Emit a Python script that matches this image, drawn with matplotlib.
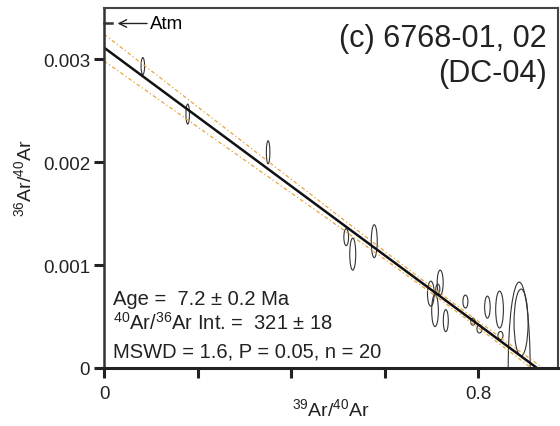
import matplotlib as mpl
mpl.use('Agg')
import matplotlib.pyplot as plt
from matplotlib.patches import Ellipse
import numpy as np

plt.rcParams['font.family'] = ['Liberation Sans', 'DejaVu Sans']
plt.rcParams['mathtext.fontset'] = 'custom'
plt.rcParams['mathtext.rm'] = 'Liberation Sans'
plt.rcParams['mathtext.it'] = 'Liberation Sans:italic'

# error ellipses: 39Ar/40Ar, 36Ar/40Ar, full width, full height
x_c = [0.083, 0.179, 0.351, 0.518, 0.532, 0.578, 0.699, 0.719, 0.714, 0.708,
       0.731, 0.773, 0.789, 0.803, 0.820, 0.846, 0.848, 0.888, 0.892]
y_c = [0.002935, 0.002469, 0.002097, 0.001272, 0.001107, 0.001233, 0.000723,
       0.000830, 0.000767, 0.000558, 0.000461, 0.000646, 0.000451, 0.000379,
       0.000592, 0.000568, 0.000316, 0.0, 0.000442]
w_c = [0.0075, 0.0075, 0.0075, 0.010, 0.0128, 0.0128, 0.0143, 0.0128, 0.0086,
       0.0143, 0.0107, 0.0107, 0.0096, 0.0107, 0.0118, 0.0165, 0.0107, 0.047, 0.030]
h_c = [0.000165, 0.000194, 0.000223, 0.000165, 0.000311, 0.000320, 0.000243,
       0.000243, 0.000097, 0.000311, 0.000214, 0.000126, 0.000068, 0.000078,
       0.000214, 0.000359, 0.000078, 0.00167, 0.00065]

# isochron fit
y_int = 1 / 321.0
x_int = 0.926
atm = 1 / 298.56
# envelope half width parameters
env_a, env_b, env_x0 = 0.00003, 0.000169, 0.75

fig = plt.figure(figsize=(5.6, 4.27), dpi=100)
ax = fig.add_axes([104/560, 1-369/427, 454/560, 360/427])

for x, y, w, h in zip(x_c, y_c, w_c, h_c):
    ax.add_patch(Ellipse((x, y), w, h, fill=False, edgecolor='#333333', linewidth=0.8))

xx = np.linspace(0, 0.971, 200)
yy = y_int - y_int / x_int * xx
half = np.sqrt(env_a**2 + env_b**2 * (xx - env_x0)**2)
ax.plot(xx, yy + half, color='#E8A640', lw=0.9, ls=(0, (3, 2, 1, 2)))
ax.plot(xx, yy - half, color='#E8A640', lw=0.9, ls=(0, (3, 2, 1, 2)))
ax.plot([0, x_int], [y_int, 0], color='#111111', lw=1.8)

# atmospheric ratio marker
ax.plot([0, 0.018], [atm, atm], color='#333333', lw=1.8, clip_on=False)
ax.annotate('Atm', xy=(0.029, atm), xytext=(0.098, atm), fontsize=13.5,
            va='center', ha='left',
            arrowprops=dict(arrowstyle='->', color='#222222', lw=1.0,
                            shrinkA=0, shrinkB=0))

ax.set_xlim(0, 0.971)
ax.set_ylim(0, 0.0035)
ax.set_xticks([0, 0.2, 0.4, 0.6, 0.8])
ax.set_xticklabels(['0', '', '', '', '0.8'])
ax.set_yticks([0, 0.001, 0.002, 0.003])
ax.set_yticklabels(['0', '0.001', '0.002', '0.003'])
ax.tick_params(direction='out', length=7, width=2.2, color='#222222',
               labelsize=13.5, labelcolor='#222222')
ax.tick_params(axis='x', pad=5)
ax.tick_params(axis='y', pad=3)

ax.spines['left'].set_linewidth(1.8)
ax.spines['left'].set_color('#333333')
ax.spines['bottom'].set_linewidth(2.2)
ax.spines['bottom'].set_color('#222222')
for s in ['top', 'right']:
    ax.spines[s].set_linewidth(1.5)
    ax.spines[s].set_color('#444444')

ax.set_xlabel('$^{39}$Ar/$^{40}$Ar', fontsize=14, color='#222222')
ax.set_ylabel('$^{36}$Ar/$^{40}$Ar', fontsize=14, color='#222222')
ax.xaxis.set_label_coords(0.5, -0.08)
ax.yaxis.set_label_coords(-0.152, 0.53)

ax.text(0.976, 0.894, '(c) 6768-01, 02', transform=ax.transAxes, ha='right',
        va='baseline', fontsize=22, color='#222222')
ax.text(0.976, 0.797, '(DC-04)', transform=ax.transAxes, ha='right',
        va='baseline', fontsize=22, color='#222222')

ax.text(0.02, 0.178, 'Age =  7.2 \u00b1 0.2 Ma', transform=ax.transAxes,
        va='baseline', fontsize=14.5, color='#222222')
ax.text(0.02, 0.108, '$^{40}$Ar/$^{36}$Ar Int. =  321 \u00b1 18', transform=ax.transAxes,
        va='baseline', fontsize=14.5, color='#222222')
ax.text(0.02, 0.033, 'MSWD = 1.6, P = 0.05, n = 20', transform=ax.transAxes,
        va='baseline', fontsize=14.5, color='#222222')

fig.savefig('out.png', dpi=100)
